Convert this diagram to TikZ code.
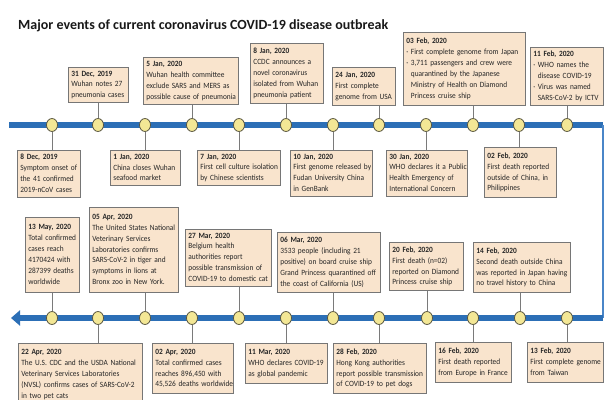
\documentclass[tikz,border=0pt]{standalone}
\usepackage{fontspec}
\setmainfont{Carlito}
\newfontfamily\bxfont{Carlito}[FakeStretch=0.92]
\usetikzlibrary{shapes.geometric,arrows.meta}
\definecolor{barblue}{HTML}{2C6FB6}
\definecolor{thinblue}{HTML}{4A86C8}
\definecolor{boxfill}{HTML}{F9E4CD}
\definecolor{boxline}{HTML}{767676}
\definecolor{dotfill}{HTML}{F3E795}
\definecolor{dotline}{HTML}{5A5740}
\definecolor{stemgray}{HTML}{7A7A7A}
\newcommand\evt[2]{\begin{tabular}{@{}l@{}}\textbf{#1}\\#2\end{tabular}}
\newcommand\ind{\hspace*{4.5pt}}
\tikzset{
  evbox/.style={draw=boxline, fill=boxfill, line width=0.8pt, anchor=north west,
    align=left, inner xsep=3pt, inner ysep=1pt, font=\bxfont\fontsize{8}{10.9}\selectfont, text=black!85},
  dot/.style={ellipse, draw=dotline, fill=dotfill, line width=0.8pt, minimum width=11pt, minimum height=13pt, inner sep=0pt},
  stem/.style={draw=stemgray, line width=0.7pt},
  bar/.style={draw=barblue, line width=6pt},
}
\begin{document}
\begin{tikzpicture}[x=1pt,y=-1pt]
\useasboundingbox (0,0) rectangle (605,399);
\fill[white] (0,0) rectangle (605,399);
\node[anchor=base west, font=\fontsize{14}{16}\selectfont\bfseries, text=black!90, inner sep=0pt] (title) at (18,29) {Major events of current coronavirus COVID-19 disease outbreak};
% bars
\coordinate (tl) at (9,125);
\coordinate (tr) at (603,125);
\coordinate (br) at (603,318);
\coordinate (bl) at (11,318);
\draw[bar] (tl) -- (tr);
\draw[thinblue, line width=1.6pt] (tr) -- (br);
\draw[bar, -{Triangle[length=9pt,width=15pt]}] (br) -- (bl);
% dots
\foreach \i/\x in {1/52,2/98,3/145,4/192,5/239,6/286,7/333,8/379,9/426,10/473,11/519,12/567}{
  \node[dot] (t\i) at (\x,125) {};
}
\foreach \i/\x in {1/52,2/98,3/145,4/192,5/239,6/286,7/333,8/379,9/427,10/473,11/520,12/567}{
  \node[dot] (u\i) at (\x,318) {};
}
% top row, above
\node[evbox, text width=54pt, minimum height=33pt] (a1) at (68,67) {\evt{31 Dec, 2019}{Wuhan notes 27\\pneumonia cases}};
\node[evbox, text width=89pt, minimum height=47pt] (a2) at (143,57) {\evt{5 Jan, 2020}{Wuhan health committee\\exclude SARS and MERS as\\possible cause of pneumonia}};
\node[evbox, text width=67pt, minimum height=60pt] (a3) at (250,43) {\evt{8 Jan, 2020}{CCDC announces a\\novel coronavirus\\isolated from Wuhan\\pneumonia patient}};
\node[evbox, text width=57pt, minimum height=38pt] (a4) at (332,67) {\evt{24 Jan, 2020}{First complete\\genome from USA}};
\node[evbox, text width=116pt, minimum height=73pt] (a5) at (403,32) {\evt{03 Feb, 2020}{· First complete genome from Japan\\· 3,711 passengers and crew were\\\ind quarantined by the Japanese\\\ind Ministry of Health on Diamond\\\ind Princess cruise ship}};
\node[evbox, text width=67pt, minimum height=58pt] (a6) at (530,47) {\evt{11 Feb, 2020}{· WHO names the\\\ind disease COVID-19\\· Virus was named\\\ind SARS-CoV-2 by ICTV}};
% top row, below
\node[evbox, text width=57pt, minimum height=47pt] (b1) at (17,150) {\evt{8 Dec, 2019}{Symptom onset of\\the 41 confirmed\\2019-nCoV cases}};
\node[evbox, text width=64pt, minimum height=35pt] (b2) at (110,150) {\evt{1 Jan, 2020}{China closes Wuhan\\seafood market}};
\node[evbox, text width=77pt, minimum height=32pt] (b3) at (197,150) {\evt{7 Jan, 2020}{First cell culture isolation\\by Chinese scientists}};
\node[evbox, text width=76pt, minimum height=45pt] (b4) at (290,150) {\evt{10 Jan, 2020}{First genome released by\\Fudan University China\\in GenBank}};
\node[evbox, text width=75pt, minimum height=45pt] (b5) at (386,150) {\evt{30 Jan, 2020}{WHO declares it a Public\\Health Emergency of\\International Concern}};
\node[evbox, text width=66pt, minimum height=50pt] (b6) at (484,147) {\evt{02 Feb, 2020}{First death reported\\outside of China, in\\Philippines}};
% bottom row, above
\node[evbox, text width=48pt, minimum height=75pt] (c1) at (25,217) {\evt{13 May, 2020}{Total confirmed\\cases reach\\4170424 with\\287399 deaths\\worldwide}};
\node[evbox, text width=83pt, minimum height=85pt] (c2) at (89,207) {\evt{05 Apr, 2020}{The United States National\\Veterinary Services\\Laboratories confirms\\SARS-CoV-2 in tiger and\\symptoms in lions at\\Bronx zoo in New York.}};
\node[evbox, text width=80pt, minimum height=56pt] (c3) at (185,229) {\evt{27 Mar, 2020}{Belgium health\\authorities report\\possible transmission of\\COVID-19 to domestic cat}};
\node[evbox, text width=97pt, minimum height=60pt] (c4) at (277,232) {\evt{06 Mar, 2020}{3533 people (including 21\\positive) on board cruise ship\\Grand Princess quarantined off\\the coast of California (US)}};
\node[evbox, text width=68pt, minimum height=48pt] (c5) at (389,242) {\evt{20 Feb, 2020}{First death (n=02)\\reported on Diamond\\Princess cruise ship}};
\node[evbox, text width=91pt, minimum height=50pt] (c6) at (473,242) {\evt{14 Feb, 2020}{Second death outside China\\was reported in Japan having\\no travel history to China}};
% bottom row, below
\node[evbox, text width=118pt, minimum height=62pt] (d1) at (18,343) {\evt{22 Apr, 2020}{The U.S. CDC and the USDA National\\Veterinary Services Laboratories\\(NVSL) confirms cases of SARS-CoV-2\\in two pet cats}};
\node[evbox, text width=75pt, minimum height=50pt] (d2) at (152,343) {\evt{02 Apr, 2020}{Total confirmed cases\\reaches 896,450 with\\45,526 deaths worldwide}};
\node[evbox, text width=76pt, minimum height=40pt] (d3) at (245,343) {\evt{11 Mar, 2020}{WHO declares COVID-19\\as global pandemic}};
\node[evbox, text width=87pt, minimum height=50pt] (d4) at (333,343) {\evt{28 Feb, 2020}{Hong Kong authorities\\report possible transmission\\of COVID-19 to pet dogs}};
\node[evbox, text width=70pt, minimum height=40pt] (d5) at (435,342) {\evt{16 Feb, 2020}{First death reported\\from Europe in France}};
\node[evbox, text width=70pt, minimum height=40pt] (d6) at (527,342) {\evt{13 Feb, 2020}{First complete genome\\from Taiwan}};
% stems
\foreach \d/\b in {t2/a1,t4/a2,t6/a3,t8/a4,t10/a5,t12/a6}{
  \draw[stem] (\d.north) -- (\d |- \b.south);
}
\foreach \d/\b in {t1/b1,t3/b2,t5/b3,t7/b4,t9/b5,t11/b6}{
  \draw[stem] (\d.south) -- (\d |- \b.north);
}
\foreach \d/\b in {u1/c1,u3/c2,u5/c3,u7/c4,u9/c5,u11/c6}{
  \draw[stem] (\d.north) -- (\d |- \b.south);
}
\foreach \d/\b in {u2/d1,u4/d2,u6/d3,u8/d4,u10/d5,u12/d6}{
  \draw[stem] (\d.south) -- (\d |- \b.north);
}
\end{tikzpicture}
\end{document}
